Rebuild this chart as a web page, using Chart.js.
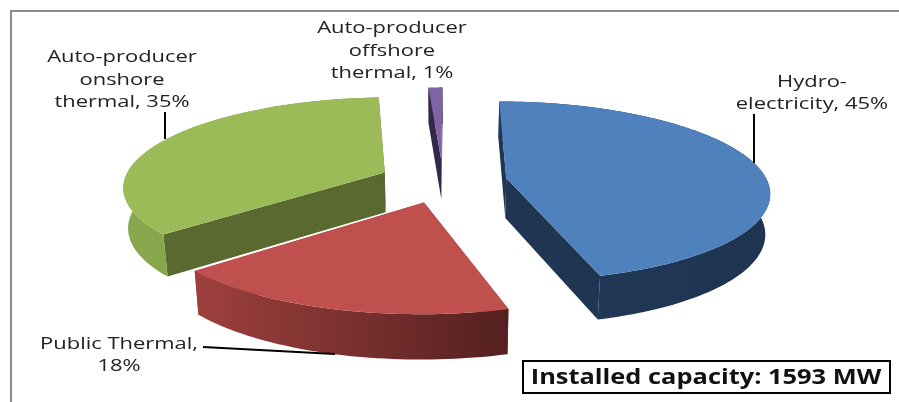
<!DOCTYPE html>
<html>
<head>
<meta charset="utf-8">
<style>
  html, body { margin: 0; padding: 0; background: #fff; }
  #wrap { position: relative; width: 899px; height: 402px; overflow: hidden; }
  canvas { display: block; }
</style>
<script src="https://cdn.jsdelivr.net/npm/chart.js@4"></script>
</head>
<body>
<div id="wrap"><canvas id="pie" width="899" height="402"></canvas></div>
<script>
// Installed generation capacity by source
const categories = ['Hydro-electricity', 'Public Thermal', 'Auto-producer onshore thermal', 'Auto-producer offshore thermal'];
const shares = [45, 18, 35, 1];
const topColors = ['#4F81BD', '#C0504D', '#9BBB59', '#8064A2'];
const wallColors = ['#1F3552', '#8A3836', '#59692F', '#33284A'];
const rimColors = [['#21385A', '#1E3450'], ['#9E403E', '#54201F'], ['#8AA84E', '#7A9445'], ['#33284A', '#33284A']];
const capacityNote = 'Installed capacity: 1593 MW';

// Text blocks: lines, centre x, first baseline y, line spacing
const labelBlocks = [
  { lines: ['Hydro-', 'electricity, 45%'], x: 812, y: 87, gap: 22 },
  { lines: ['Public Thermal,', '18%'], x: 119, y: 349, gap: 22 },
  { lines: ['Auto-producer', 'onshore', 'thermal, 35%'], x: 122, y: 62, gap: 22.5 },
  { lines: ['Auto-producer', 'offshore', 'thermal, 1%'], x: 392, y: 33, gap: 22.5 }
];
const leaderLines = [
  [[754, 114], [754, 163]],
  [[203, 347], [335, 354]],
  [[165, 112], [165, 139]]
];

// Perspective view of the pie's two faces
const view = { cx: 443, cy: 181, rx: 261, ry: 88.5, persp: 0.145, depth: 40, bottomX: 0.985, bottomY: 1.04 };

function project(wx, wy, bottom) {
  const w = 1 + view.persp * wy;
  if (bottom) {
    return [view.cx + view.rx * view.bottomX * wx / w, view.cy + view.depth - view.ry * view.bottomY * wy / w];
  }
  return [view.cx + view.rx * wx / w, view.cy - view.ry * wy / w];
}

// Samples one slice in unit-circle coordinates using the arc element's own geometry
function sliceOutline(arc) {
  const p = arc.getProps(['startAngle', 'endAngle', 'outerRadius'], true);
  const R = p.outerRadius;
  const off = (arc.options.offset || 0) / R;
  const mid = (p.startAngle + p.endAngle) / 2;
  const ox = Math.cos(mid) * off, oy = -Math.sin(mid) * off;
  const steps = Math.max(6, Math.ceil((p.endAngle - p.startAngle) * 40));
  const rim = [];
  for (let i = 0; i <= steps; i++) {
    const a = p.startAngle + (p.endAngle - p.startAngle) * i / steps;
    rim.push([ox + Math.cos(a), oy - Math.sin(a)]);
  }
  return { apex: [ox, oy], rim };
}

function poly(ctx, pts, fill) {
  ctx.beginPath();
  pts.forEach((q, i) => i ? ctx.lineTo(q[0], q[1]) : ctx.moveTo(q[0], q[1]));
  ctx.closePath();
  ctx.fillStyle = fill;
  ctx.fill();
}

// Draws a line of text widened about its centre
function wideText(ctx, text, x, y, stretch) {
  ctx.save();
  ctx.translate(x, y);
  ctx.scale(stretch, 1);
  ctx.fillText(text, 0, 0);
  ctx.restore();
}

const pie3d = {
  id: 'pie3d',
  beforeDatasetsDraw(chart) {
    const ctx = chart.ctx;
    const arcs = chart.getDatasetMeta(0).data;
    ctx.save();
    // Far slices first, nearest slice last
    [3, 2, 0, 1].forEach(i => {
      const s = sliceOutline(arcs[i]);
      const top = s.rim.map(q => project(q[0], q[1], false));
      const low = s.rim.map(q => project(q[0], q[1], true));
      const apexTop = project(s.apex[0], s.apex[1], false);
      const apexLow = project(s.apex[0], s.apex[1], true);
      // Radial cut walls
      poly(ctx, [apexTop, top[0], low[0], apexLow], wallColors[i]);
      poly(ctx, [apexTop, top[top.length - 1], low[low.length - 1], apexLow], wallColors[i]);
      // Curved outer wall, shaded from left to right
      const xs = top.map(q => q[0]);
      const grad = ctx.createLinearGradient(Math.min(...xs), 0, Math.max(...xs), 0);
      grad.addColorStop(0, rimColors[i][0]);
      grad.addColorStop(1, rimColors[i][1]);
      poly(ctx, [...top, ...low.slice().reverse()], grad);
      // Upper face
      poly(ctx, [apexTop, ...top], topColors[i]);
    });
    ctx.restore();
    return false;
  },
  afterDraw(chart) {
    const ctx = chart.ctx;
    ctx.save();
    // Frame along the top and left
    ctx.fillStyle = '#8C8C8C';
    ctx.fillRect(10, 10, 889, 2);
    ctx.fillRect(10, 10, 2, 392);
    // Leader lines
    ctx.strokeStyle = '#000';
    ctx.lineWidth = 2;
    leaderLines.forEach(l => {
      ctx.beginPath();
      ctx.moveTo(l[0][0], l[0][1]);
      ctx.lineTo(l[1][0], l[1][1]);
      ctx.stroke();
    });
    // Data labels
    ctx.fillStyle = '#222';
    ctx.font = '17px "Open Sans"';
    ctx.textAlign = 'center';
    ctx.textBaseline = 'alphabetic';
    labelBlocks.forEach(b => b.lines.forEach((t, i) => wideText(ctx, t, b.x, b.y + i * b.gap, 1.29)));
    // Capacity note
    ctx.fillStyle = '#fff';
    ctx.fillRect(523, 361, 367, 32);
    ctx.strokeStyle = '#000';
    ctx.strokeRect(523, 361, 367, 32);
    ctx.fillStyle = '#111';
    ctx.font = 'bold 21px "Open Sans"';
    wideText(ctx, capacityNote, 706, 384, 1.21);
    ctx.restore();
  }
};

new Chart(document.getElementById('pie'), {
  type: 'pie',
  data: {
    labels: categories,
    datasets: [{
      data: shares,
      backgroundColor: topColors,
      borderWidth: 0,
      offset: 44
    }]
  },
  options: {
    responsive: false,
    animation: false,
    rotation: 0.25,
    layout: { padding: 0 },
    plugins: { legend: { display: false }, tooltip: { enabled: false } }
  },
  plugins: [pie3d]
});
</script>
</body>
</html>
